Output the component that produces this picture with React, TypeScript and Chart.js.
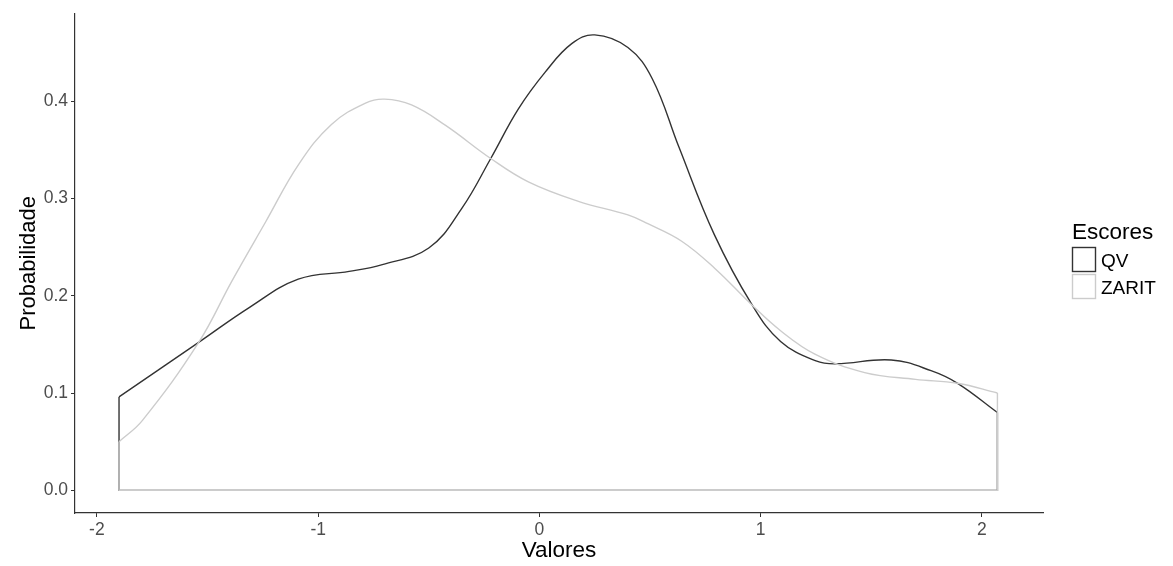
import React, { useEffect, useRef } from "react";
import { Chart, registerables } from "chart.js";

Chart.register(...registerables);

// Series (density estimates)
const qvX = [-1.9, -1.54, -1.31, -1.09, -0.86, -0.71, -0.5, -0.35, -0.22, -0.095, 0.027, 0.146, 0.25, 0.4, 0.51, 0.63, 0.79, 0.96, 1.09, 1.25, 1.34, 1.59, 1.77, 1.89, 2.07];
const qvY = [0.096, 0.152, 0.188, 0.217, 0.225, 0.232, 0.249, 0.29, 0.341, 0.392, 0.43, 0.459, 0.468, 0.455, 0.423, 0.353, 0.263, 0.191, 0.153, 0.133, 0.13, 0.134, 0.123, 0.11, 0.08];

const zaritX = [-1.9, -1.795, -1.54, -1.39, -1.237, -1.088, -0.94, -0.786, -0.7, -0.578, -0.424, -0.22, -0.05, 0.176, 0.4, 0.49, 0.643, 0.793, 0.958, 1.09, 1.245, 1.47, 1.7, 1.89, 2.07];
const zaritY = [0.05, 0.0716, 0.152, 0.215, 0.276, 0.335, 0.376, 0.398, 0.402, 0.396, 0.375, 0.341, 0.317, 0.297, 0.283, 0.274, 0.256, 0.228, 0.191, 0.164, 0.14, 0.121, 0.114, 0.11, 0.1];

const seriesNames = ["QV", "ZARIT"];
const seriesColors = ["#333333", "#CCCCCC"];
const legendTitle = "Escores";
const xTicks = [-2, -1, 0, 1, 2];
const yTicks = [0, 0.1, 0.2, 0.3, 0.4];
const xTitle = "Valores";
const yTitle = "Probabilidade";

const X_RANGE = [-2.099, 2.276];
const Y_RANGE = [-0.0233, 0.49];

const FONT = "'Liberation Sans', Arial, Helvetica, sans-serif";

function curve(xs: number[], ys: number[]) {
  return xs.map((x, i) => ({ x, y: ys[i] }));
}
function frame(xs: number[], ys: number[]) {
  const n = xs.length - 1;
  return [
    { x: xs[0], y: ys[0] },
    { x: xs[0], y: 0 },
    { x: xs[n], y: 0 },
    { x: xs[n], y: ys[n] },
  ];
}

const legendPlugin = {
  id: "ggLegend",
  afterDraw(chart: any) {
    const { ctx, chartArea } = chart;
    const left = chartArea.right + 29;
    ctx.save();
    ctx.fillStyle = "#000";
    ctx.font = `22.5px ${FONT}`;
    ctx.textBaseline = "middle";
    ctx.textAlign = "left";
    ctx.fillText(legendTitle, left, 233);
    seriesNames.forEach((name, i) => {
      const top = 247 + i * 27;
      ctx.fillStyle = "#fff";
      ctx.fillRect(left, top, 24, 25);
      ctx.strokeStyle = seriesColors[i];
      ctx.lineWidth = 1.4;
      ctx.strokeRect(left + 0.5, top + 0.5, 23, 24);
      ctx.fillStyle = "#000";
      ctx.font = `19px ${FONT}`;
      ctx.fillText(name, left + 29, top + 15);
    });
    ctx.restore();
  },
};

export default function App() {
  const ref = useRef<HTMLCanvasElement>(null);
  useEffect(() => {
    if (!ref.current) return;
    const mkCurve = (xs: number[], ys: number[], i: number) => ({
      label: seriesNames[i],
      data: curve(xs, ys),
      showLine: true,
      borderColor: seriesColors[i],
      backgroundColor: seriesColors[i],
      borderWidth: 1.4,
      pointRadius: 0,
      tension: 0.4,
      fill: false,
    });
    const mkFrame = (xs: number[], ys: number[], i: number) => ({
      label: seriesNames[i] + "-frame",
      data: frame(xs, ys),
      showLine: true,
      borderColor: seriesColors[i],
      backgroundColor: seriesColors[i],
      borderWidth: 1.4,
      pointRadius: 0,
      tension: 0,
      fill: false,
    });
    const chart = new Chart(ref.current, {
      type: "scatter",
      data: {
        datasets: [
          mkFrame(zaritX, zaritY, 1),
          mkCurve(zaritX, zaritY, 1),
          mkCurve(qvX, qvY, 0),
          mkFrame(qvX, qvY, 0),
        ],
      },
      options: {
        animation: false,
        responsive: true,
        maintainAspectRatio: false,
        events: [],
        layout: { padding: { top: 10, right: 130, left: 0, bottom: 0 } },
        plugins: { legend: { display: false }, tooltip: { enabled: false } },
        scales: {
          x: {
            type: "linear",
            min: X_RANGE[0],
            max: X_RANGE[1],
            afterFit: (s: any) => {
              s.height = 53;
            },
            afterBuildTicks: (s: any) => {
              s.ticks = xTicks.map((v) => ({ value: v }));
            },
            ticks: {
              color: "#4D4D4D",
              font: { size: 17.5, family: FONT },
              padding: 3,
              callback: (v: any) => String(v),
            },
            grid: { display: true, drawOnChartArea: false, tickLength: 4, color: "#333333", lineWidth: 1 },
            border: { display: true, color: "#333333", width: 1.2 },
            title: {
              display: true,
              text: xTitle,
              color: "#000",
              font: { size: 22.5, family: FONT },
              padding: { top: 0, bottom: 2 },
            },
          },
          y: {
            type: "linear",
            min: Y_RANGE[0],
            max: Y_RANGE[1],
            afterFit: (s: any) => {
              s.width = 75;
            },
            afterBuildTicks: (s: any) => {
              s.ticks = yTicks.map((v) => ({ value: v }));
            },
            ticks: {
              color: "#4D4D4D",
              font: { size: 17.5, family: FONT },
              padding: 3,
              callback: (v: any) => Number(v).toFixed(1),
            },
            grid: { display: true, drawOnChartArea: false, tickLength: 4, color: "#333333", lineWidth: 1 },
            border: { display: true, color: "#333333", width: 1.2 },
            title: {
              display: true,
              text: yTitle,
              color: "#000",
              font: { size: 22, family: FONT },
              padding: { top: 16, bottom: 0 },
            },
          },
        },
      },
      plugins: [legendPlugin],
    });
    return () => chart.destroy();
  }, []);
  return (
    <div style={{ position: "absolute", left: 0, top: 0, width: 1173, height: 566, background: "#fff" }}>
      <canvas ref={ref} />
    </div>
  );
}
